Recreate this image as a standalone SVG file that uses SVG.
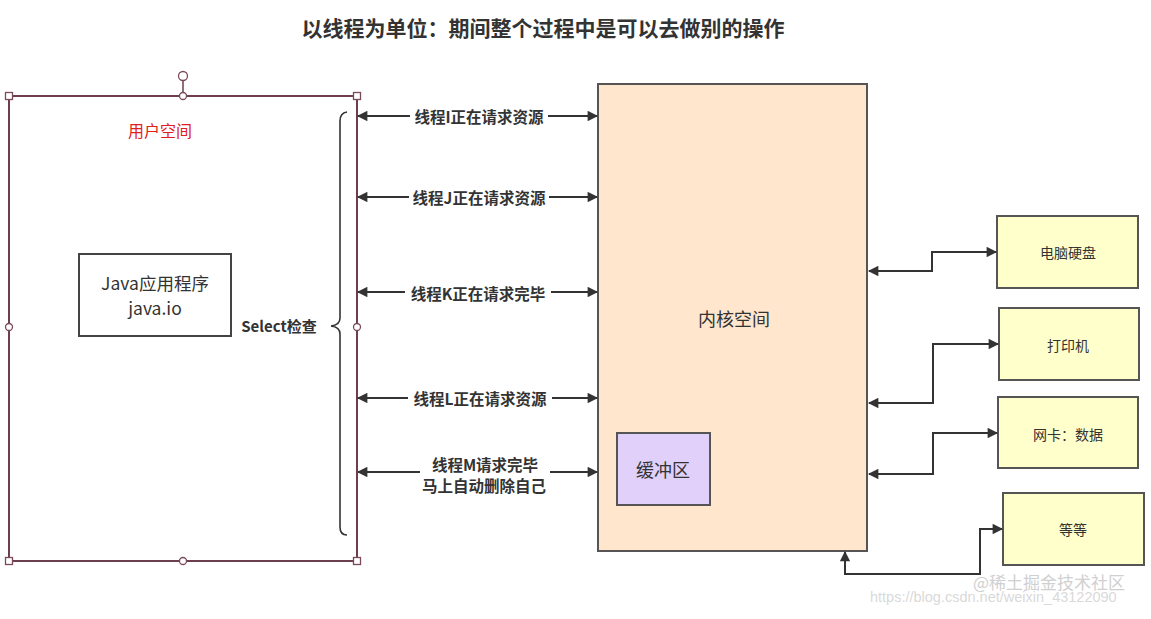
<svg xmlns="http://www.w3.org/2000/svg" width="1151" height="619" viewBox="0 0 1151 619">
<defs>
<style>
text{font-family:"Noto Sans CJK SC","Liberation Sans",sans-serif;fill:#333;}
.lbl{font-size:15.5px;font-weight:bold;text-anchor:middle;dominant-baseline:central;}
.box{fill:#ffffcc;stroke:#555;stroke-width:2;}
.bt{font-size:14px;text-anchor:middle;dominant-baseline:central;}
.con{fill:none;stroke:#333;stroke-width:2;}
.hdl{fill:#fff;stroke:#7a4a58;stroke-width:1.3;}
</style>
<marker id="ah" viewBox="0 0 10 10" refX="9" refY="5" markerWidth="6" markerHeight="5.2" orient="auto-start-reverse" markerUnits="strokeWidth">
<path d="M0,0 L10,5 L0,10 Z" fill="#333"/>
</marker>
</defs>
<rect width="1151" height="619" fill="#fff"/>
<text x="543" y="27" style="font-size:21px;font-weight:bold;text-anchor:middle;dominant-baseline:central;">以线程为单位：期间整个过程中是可以去做别的操作</text>

<g id="user-space">
<rect x="9" y="96" width="348" height="465" fill="#fff" stroke="#6d3f4c" stroke-width="2"/>
<line x1="183" y1="80" x2="183" y2="96" stroke="#6d3f4c" stroke-width="1.5"/>
<circle class="hdl" cx="183" cy="76" r="4.5"/>
<rect class="hdl" x="5.5" y="92.5" width="7" height="7"/>
<rect class="hdl" x="353.5" y="92.5" width="7" height="7"/>
<rect class="hdl" x="5.5" y="557.5" width="7" height="7"/>
<rect class="hdl" x="353.5" y="557.5" width="7" height="7"/>
<circle class="hdl" cx="183" cy="96" r="3.5"/>
<circle class="hdl" cx="183" cy="561" r="3.5"/>
<circle class="hdl" cx="9" cy="327" r="3.5"/>
<circle class="hdl" cx="357" cy="327" r="3.5"/>
<text x="160" y="130" style="font-size:16px;fill:#e0201c;text-anchor:middle;dominant-baseline:central;">用户空间</text>
</g>

<g id="java-app">
<rect x="79" y="254" width="152" height="82" fill="#fff" stroke="#444" stroke-width="2"/>
<text x="155" y="282" style="font-size:17.5px;text-anchor:middle;dominant-baseline:central;">Java应用程序</text>
<text x="155" y="307" style="font-size:17.5px;text-anchor:middle;dominant-baseline:central;">java.io</text>
</g>

<g id="select-check">
<path d="M347,112 Q340,113 340,121 L340,318 Q340,325 331,326 Q340,327 340,334 L340,527 Q340,535 347,535" fill="none" stroke="#333" stroke-width="1.6"/>
<text x="279" y="325" style="font-size:15px;font-weight:bold;text-anchor:middle;dominant-baseline:central;">Select检查</text>
</g>

<g id="kernel">
<rect x="598" y="84" width="269" height="467" fill="#ffe6cc" stroke="#555" stroke-width="2"/>
<text x="734" y="318" style="font-size:18px;text-anchor:middle;dominant-baseline:central;">内核空间</text>
</g>

<g id="buffer">
<rect x="617" y="433" width="93" height="72" fill="#e1d0fa" stroke="#555" stroke-width="2"/>
<text x="663" y="469" style="font-size:18px;text-anchor:middle;dominant-baseline:central;">缓冲区</text>
</g>

<g id="disk"><rect class="box" x="997" y="216" width="141" height="72"/><text class="bt" x="1068" y="252">电脑硬盘</text></g>
<g id="printer"><rect class="box" x="999" y="308" width="140" height="72"/><text class="bt" x="1068" y="345">打印机</text></g>
<g id="nic"><rect class="box" x="998" y="397" width="140" height="71"/><text class="bt" x="1068" y="434">网卡：数据</text></g>
<g id="etc"><rect class="box" x="1003" y="493" width="141" height="72"/><text class="bt" x="1073" y="529">等等</text></g>

<g id="connectors">
<line class="con" x1="358" y1="116" x2="597" y2="116" marker-start="url(#ah)" marker-end="url(#ah)"/>
<line class="con" x1="358" y1="197" x2="597" y2="197" marker-start="url(#ah)" marker-end="url(#ah)"/>
<line class="con" x1="358" y1="292" x2="597" y2="292" marker-start="url(#ah)" marker-end="url(#ah)"/>
<line class="con" x1="358" y1="398" x2="597" y2="398" marker-start="url(#ah)" marker-end="url(#ah)"/>
<line class="con" x1="358" y1="472" x2="597" y2="472" marker-start="url(#ah)" marker-end="url(#ah)"/>
<rect x="410" y="106" width="138" height="20" fill="#fff"/>
<text class="lbl" x="479" y="116">线程I正在请求资源</text>
<rect x="409" y="187" width="140" height="20" fill="#fff"/>
<text class="lbl" x="479" y="197">线程J正在请求资源</text>
<rect x="405" y="282" width="146" height="20" fill="#fff"/>
<text class="lbl" x="478" y="293">线程K正在请求完毕</text>
<rect x="408" y="388" width="144" height="20" fill="#fff"/>
<text class="lbl" x="480" y="398">线程L正在请求资源</text>
<rect x="420" y="454" width="130" height="40" fill="#fff"/>
<text class="lbl" x="485" y="464">线程M请求完毕</text>
<text class="lbl" x="484" y="485">马上自动删除自己</text>

<polyline class="con" points="869,271 932,271 932,252 996,252" marker-start="url(#ah)" marker-end="url(#ah)"/>
<polyline class="con" points="869,403 933,403 933,344 998,344" marker-start="url(#ah)" marker-end="url(#ah)"/>
<polyline class="con" points="869,474 933,474 933,433 997,433" marker-start="url(#ah)" marker-end="url(#ah)"/>
<polyline class="con" points="845,552 845,574 980,574 980,529 1002,529" marker-start="url(#ah)" marker-end="url(#ah)"/>
</g>

<g id="watermark" opacity="0.55">
<text x="870" y="602" style="font-size:14.5px;fill:#bbb;font-family:'Liberation Sans',sans-serif;">https://blog.csdn.net/weixin_43122090</text>
<text x="973" y="589" style="font-size:17px;fill:#aaa;">@稀土掘金技术社区</text>
</g>
</svg>
